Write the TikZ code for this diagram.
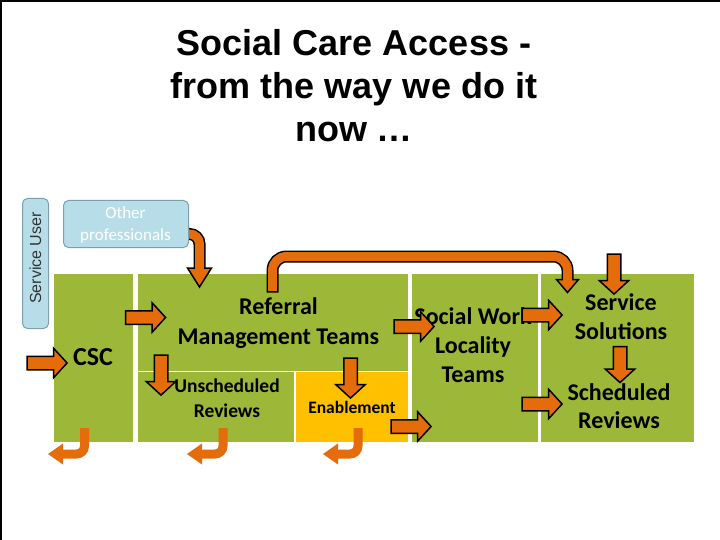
\documentclass[tikz,border=0pt]{standalone}
\usepackage{fontspec}
\setmainfont{Carlito}
\newfontfamily\arialf{Liberation Sans}
\usetikzlibrary{shapes.arrows}
\definecolor{gbox}{RGB}{157,183,57}
\definecolor{ybox}{RGB}{255,192,0}
\definecolor{orarrow}{RGB}{228,108,10}
\definecolor{lblue}{RGB}{183,222,232}
\definecolor{bborder}{RGB}{125,160,172}
\begin{document}
\begin{tikzpicture}[x=1pt,y=-1pt,
  gblock/.style={fill=gbox, draw=none, inner sep=0pt, outer sep=0pt, anchor=north west},
  bluebox/.style={fill=lblue, draw=bborder, line width=1pt, rounded corners=5pt, inner sep=0pt, anchor=north west},
  lbl/.style={inner sep=0pt, align=center, text=black},
  ttl/.style={inner sep=0pt, anchor=base, font=\arialf\bfseries\fontsize{36}{43}\selectfont},
  barrow/.style={single arrow, draw=black, fill=orarrow, line width=1.5pt, inner xsep=2pt, inner ysep=6pt, single arrow head extend=8pt, single arrow tip angle=95, minimum height=40pt, line join=miter},
  darrow/.style={barrow, rotate=-90},
  obody/.style={draw=black, line width=12pt},
  ibody/.style={draw=orarrow, line width=9pt},
  ohead/.style={fill=orarrow, draw=black, line width=1.5pt, line join=miter},
  rbody/.style={draw=orarrow, line width=9pt, rounded corners=8pt},
  rhead/.style={fill=orarrow, draw=none}
]
\useasboundingbox (0,0) rectangle (720,540);
\fill[white] (0,0) rectangle (720,540);
\draw[line width=2pt] (1,540) -- (1,1) -- (720,1);

% title
\node[ttl] (t1) at (354,56) {Social Care Access -};
\node[ttl] (t2) at (354,99) {from the way we do it};
\node[ttl] (t3) at (354,142) {now …};

% blocks
\node[gblock, minimum width=79, minimum height=168] (csc) at (54,274) {};
\node[gblock, minimum width=270, minimum height=97] (rmt) at (138,274) {};
\node[gblock, minimum width=156, minimum height=70] (uns) at (138,372) {};
\node[gblock, fill=ybox, minimum width=112, minimum height=70] (enab) at (296,372) {};
\node[gblock, minimum width=126, minimum height=168] (swlt) at (412,274) {};
\node[gblock, minimum width=153, minimum height=168] (serv) at (541,274) {};

% service user
\node[bluebox, minimum width=26, minimum height=130] (su) at (22,198) {};
\node[rotate=90, inner sep=0pt, text=black!80, font=\arialf\fontsize{16}{16}\selectfont] (sut) at (35.5,258) {Service User};

% other professionals arrow (under the box)
\coordinate (opa) at (184,234);
\coordinate (opb) at (199.5,234);
\coordinate (opc) at (199.5,269);
\draw[obody, rounded corners=10pt] (opa) -- (opb) -- (opc);
\draw[ibody, rounded corners=10pt] (opa) -- (opb) -- (opc);
\draw[ohead] (187.5,268) -- (211.5,268) -- (199.5,287) -- cycle;
\draw[ibody] (199.5,265) -- (199.5,270.5);

\node[bluebox, minimum width=125, minimum height=47] (op) at (63,200) {};
\node[lbl, text=white, font=\fontsize{17}{22}\selectfont] (opt) at (125.5,225) {Other\\professionals};

% labels
\node[lbl, font=\bfseries\fontsize{26}{30}\selectfont] (csct) at (93,357) {CSC};
\node[lbl, font=\bfseries\fontsize{24}{30}\selectfont] (rmtt) at (278.5,323) {Referral\\Management Teams};
\node[lbl, font=\bfseries\fontsize{19.5}{25}\selectfont] (unst) at (227,398) {Unscheduled\\Reviews};
\node[lbl, font=\bfseries\fontsize{17.5}{20}\selectfont] (enabt) at (352,407) {Enablement};
\node[lbl, font=\bfseries\fontsize{24}{29}\selectfont] (swltt) at (473,345) {Social Work\\Locality\\Teams};
\node[lbl, font=\bfseries\fontsize{24}{29}\selectfont] (servt) at (621,317) {Service\\Solutions};
\node[lbl, font=\bfseries\fontsize{24}{28}\selectfont] (schedt) at (619,406) {Scheduled\\Reviews};

% big bent arrow from referral management to service solutions
\coordinate (ba0) at (272.5,292.5);
\coordinate (ba1) at (272.5,291);
\coordinate (ba2) at (272.5,256.5);
\coordinate (ba3) at (567.5,256.5);
\coordinate (ba4) at (567.5,281);
\draw[obody, rounded corners=14pt] (ba0) -- (ba2) -- (ba3) -- (ba4);
\draw[ibody, rounded corners=14pt] (ba1) -- (ba2) -- (ba3) -- (ba4);
\draw[ohead] (556.5,279.5) -- (578.5,279.5) -- (567.5,292.5) -- cycle;
\draw[ibody] (567.5,277) -- (567.5,281);

% straight block arrows
\node[barrow] (a1) at (44,363) {};
\node[barrow] (a2) at (142.5,317.5) {};
\node[barrow] (a3) at (411,326.5) {};
\node[barrow] (a4) at (408,426.5) {};
\node[barrow] (a5) at (539,315) {};
\node[barrow] (a6) at (539,404) {};
\node[darrow] (a7) at (161,372) {};
\node[darrow] (a8) at (350.5,375) {};
\node[darrow] (a9) at (614,271) {};
\node[darrow, minimum height=36pt] (a10) at (620,361.5) {};

% return arrows at the bottom
\coordinate (r1a) at (84.5,428);
\coordinate (r1b) at (84.5,454);
\coordinate (r1c) at (61,454);
\draw[rbody] (r1a) -- (r1b) -- (r1c);
\fill[rhead] (63,443.5) -- (63,464.5) -- (48,454) -- cycle;
\coordinate (r2a) at (223,428);
\coordinate (r2b) at (223,454);
\coordinate (r2c) at (200,454);
\draw[rbody] (r2a) -- (r2b) -- (r2c);
\fill[rhead] (202,443.5) -- (202,464.5) -- (187,454) -- cycle;
\coordinate (r3a) at (358,428);
\coordinate (r3b) at (358,454);
\coordinate (r3c) at (336,454);
\draw[rbody] (r3a) -- (r3b) -- (r3c);
\fill[rhead] (338,443.5) -- (338,464.5) -- (323,454) -- cycle;
\end{tikzpicture}
\end{document}
